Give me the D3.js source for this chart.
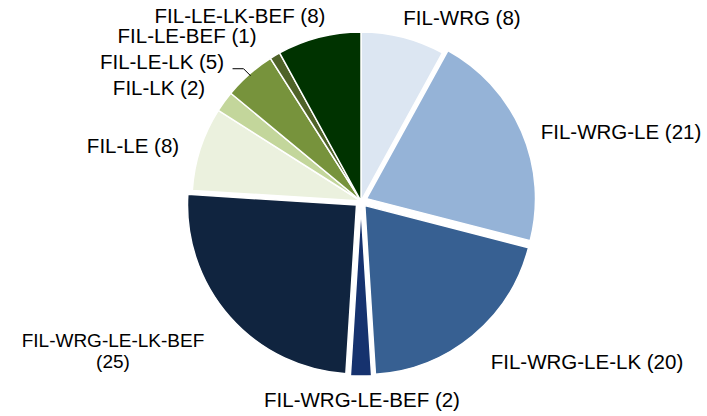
<!DOCTYPE html>
<html>
<head>
<meta charset="utf-8">
<script src="https://cdn.jsdelivr.net/npm/d3@7"></script>
<style>
  html, body { margin: 0; padding: 0; background: #fff; }
  svg { display: block; }
  text { font-family: "Liberation Sans", Arial, sans-serif; font-size: 20.5px; fill: #000; }
</style>
</head>
<body>
<svg id="chart" width="707" height="416"></svg>
<script>
// data
var categories = ["FIL-WRG", "FIL-WRG-LE", "FIL-WRG-LE-LK", "FIL-WRG-LE-BEF", "FIL-WRG-LE-LK-BEF",
                  "FIL-LE", "FIL-LK", "FIL-LE-LK", "FIL-LE-BEF", "FIL-LE-LK-BEF"];
var values = [8, 21, 20, 2, 25, 8, 2, 5, 1, 8];
var colors = ["#dce6f2", "#95b3d7", "#376092", "#16326e", "#10243f",
              "#ebf1de", "#c3d69b", "#77933c", "#4f6228", "#003300"];

// layout
var width = 707, height = 416;
var cx = 361, cy = 201, radius = 169;
var explodeDist = 6;
var exploded = {"FIL-WRG-LE": 1, "FIL-WRG-LE-LK": 1, "FIL-WRG-LE-BEF": 1, "FIL-WRG-LE-LK-BEF": 1};

// label anchor (middle), baseline y; offsets from the pie centre
var labelPos = {
  "FIL-WRG":           [101, -176],
  "FIL-WRG-LE":        [260, -62],
  "FIL-WRG-LE-LK":     [226, 168],
  "FIL-WRG-LE-BEF":    [1, 206],
  "FIL-WRG-LE-LK-BEF": [-248, 146],
  "FIL-LE":            [-228, -48],
  "FIL-LK":            [-202, -106],
  "FIL-LE-LK":         [-199, -132],
  "FIL-LE-BEF":        [-174, -158],
  "FIL-LE-LK-BEF":     [-121, -178]
};

var svg = d3.select("#chart");
var g = svg.append("g").attr("transform", "translate(" + cx + "," + cy + ")");

var color = d3.scaleOrdinal().domain(categories).range(colors);

var pie = d3.pie().sort(null).value(function(d) { return d.value; });
var arc = d3.arc().innerRadius(0).outerRadius(radius);

var dataset = categories.map(function(c, i) { return {name: c, value: values[i]}; });
var arcs = pie(dataset);

function offset(d) {
  if (!exploded[d.data.name]) return [0, 0];
  var a = (d.startAngle + d.endAngle) / 2;
  return [Math.sin(a) * explodeDist, -Math.cos(a) * explodeDist];
}

g.selectAll("path.slice")
  .data(arcs)
  .enter()
  .append("path")
  .attr("class", "slice")
  .attr("d", arc)
  .attr("transform", function(d) {
    var o = offset(d);
    return "translate(" + o[0] + "," + o[1] + ")";
  })
  .style("fill", function(d) { return color(d.data.name); })
  .style("stroke", "#fff")
  .style("stroke-width", 1.5)
  .style("stroke-linejoin", "round");

// labels
var labels = g.selectAll("text.lbl")
  .data(arcs)
  .enter()
  .append("text")
  .attr("class", "lbl")
  .attr("text-anchor", "middle")
  .attr("x", function(d) { return labelPos[d.data.name][0]; })
  .attr("y", function(d) { return labelPos[d.data.name][1]; });

labels.each(function(d) {
  var t = d3.select(this);
  var txt = d.data.name + " (" + d.data.value + ")";
  if (d.data.name == "FIL-WRG-LE-LK-BEF") {
    // wrapped onto two lines in the original
    t.style("font-size", "19px");
    t.append("tspan").attr("x", labelPos[d.data.name][0]).text(d.data.name);
    t.append("tspan").attr("x", labelPos[d.data.name][0]).attr("dy", 21).text("(" + d.data.value + ")");
  } else {
    t.text(txt);
  }
});

// leader line for FIL-LE-LK
var leLk = arcs.filter(function(d) { return d.data.name == "FIL-LE-LK"; })[0];
var mid = (leLk.startAngle + leLk.endAngle) / 2;
var ex = Math.sin(mid) * (radius - 2), ey = -Math.cos(mid) * (radius - 2);
g.append("path")
  .attr("d", d3.line()([[ex - 18, ey - 7], [ex - 7, ey - 7], [ex, ey]]))
  .style("fill", "none")
  .style("stroke", "#000")
  .style("stroke-width", 1);
</script>
</body>
</html>
